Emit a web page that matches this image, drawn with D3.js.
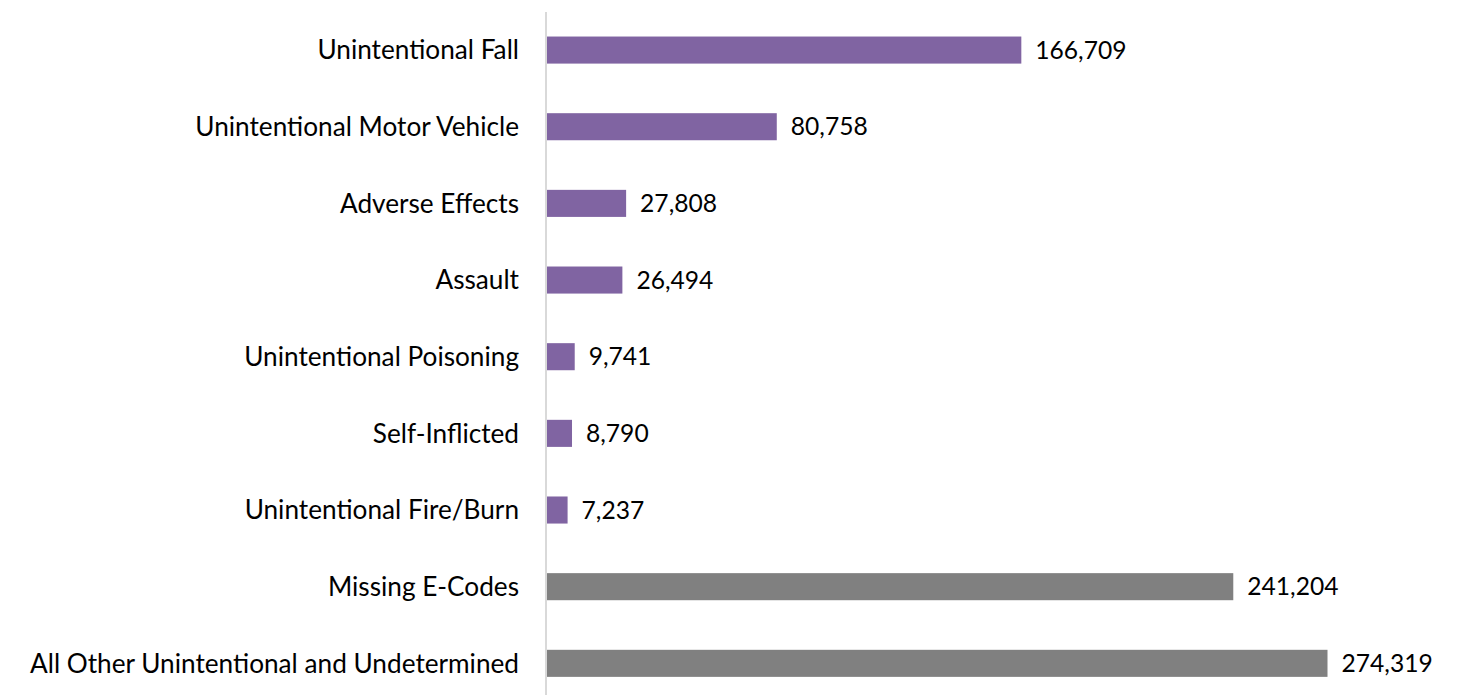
<!DOCTYPE html>
<meta charset="utf-8">
<script src="https://d3js.org/d3.v7.min.js"></script>
<style>
  body { margin: 0; background: #fff; }
  text { font-family: Lato, "Open Sans", sans-serif; fill: #000; }
</style>
<div id="my_dataviz"></div>
<script>

// categories, top to bottom
var categories = [
  "Unintentional Fall",
  "Unintentional Motor Vehicle",
  "Adverse Effects",
  "Assault",
  "Unintentional Poisoning",
  "Self-Inflicted",
  "Unintentional Fire/Burn",
  "Missing E-Codes",
  "All Other Unintentional and Undetermined"
]
var counts = [166709, 80758, 27808, 26494, 9741, 8790, 7237, 241204, 274319]
// which group each bar belongs to (colour)
var groups = ["cause", "cause", "cause", "cause", "cause", "cause", "cause", "other", "other"]

var data = categories.map(function(c, i) {
  return { name: c, value: counts[i], group: groups[i] }
})

var width = 1466, height = 695
var margin = {top: 12, right: 0, bottom: 0, left: 547}

var svg = d3.select("#my_dataviz")
  .append("svg")
    .attr("width", width)
    .attr("height", height)

var x = d3.scaleLinear()
  .domain([0, 274319])
  .range([margin.left, 1327.5])

var y = d3.scaleBand()
  .domain(categories)
  .range([12, 12 + 76.6 * 9])
  .paddingInner(0.647)
  .paddingOuter(0.32)

var color = d3.scaleOrdinal()
  .domain(["cause", "other"])
  .range(["#8064a2", "#808080"])

// vertical axis line
svg.append("line")
  .attr("x1", 546).attr("x2", 546)
  .attr("y1", 12).attr("y2", height)
  .attr("stroke", "#d9d9d9")
  .attr("stroke-width", 2)

// bars
svg.append("g")
  .selectAll("rect")
  .data(data)
  .enter()
  .append("rect")
    .attr("x", x(0))
    .attr("y", function(d) { return y(d.name) })
    .attr("width", function(d) { return x(d.value) - x(0) })
    .attr("height", y.bandwidth())
    .attr("fill", function(d) { return color(d.group) })

// category labels
svg.append("g")
  .selectAll("text")
  .data(data)
  .enter()
  .append("text")
    .attr("x", 519)
    .attr("y", function(d) { return y(d.name) + y.bandwidth() / 2 })
    .attr("dy", "0.35em")
    .attr("text-anchor", "end")
    .style("font-size", "26.2px")
    .text(function(d) { return d.name })

// value labels
var fmt = d3.format(",")
svg.append("g")
  .selectAll("text")
  .data(data)
  .enter()
  .append("text")
    .attr("x", function(d) { return x(d.value) + 14 })
    .attr("y", function(d) { return y(d.name) + y.bandwidth() / 2 })
    .attr("dy", "0.35em")
    .style("font-size", "24.6px")
    .text(function(d) { return fmt(d.value) })

</script>
